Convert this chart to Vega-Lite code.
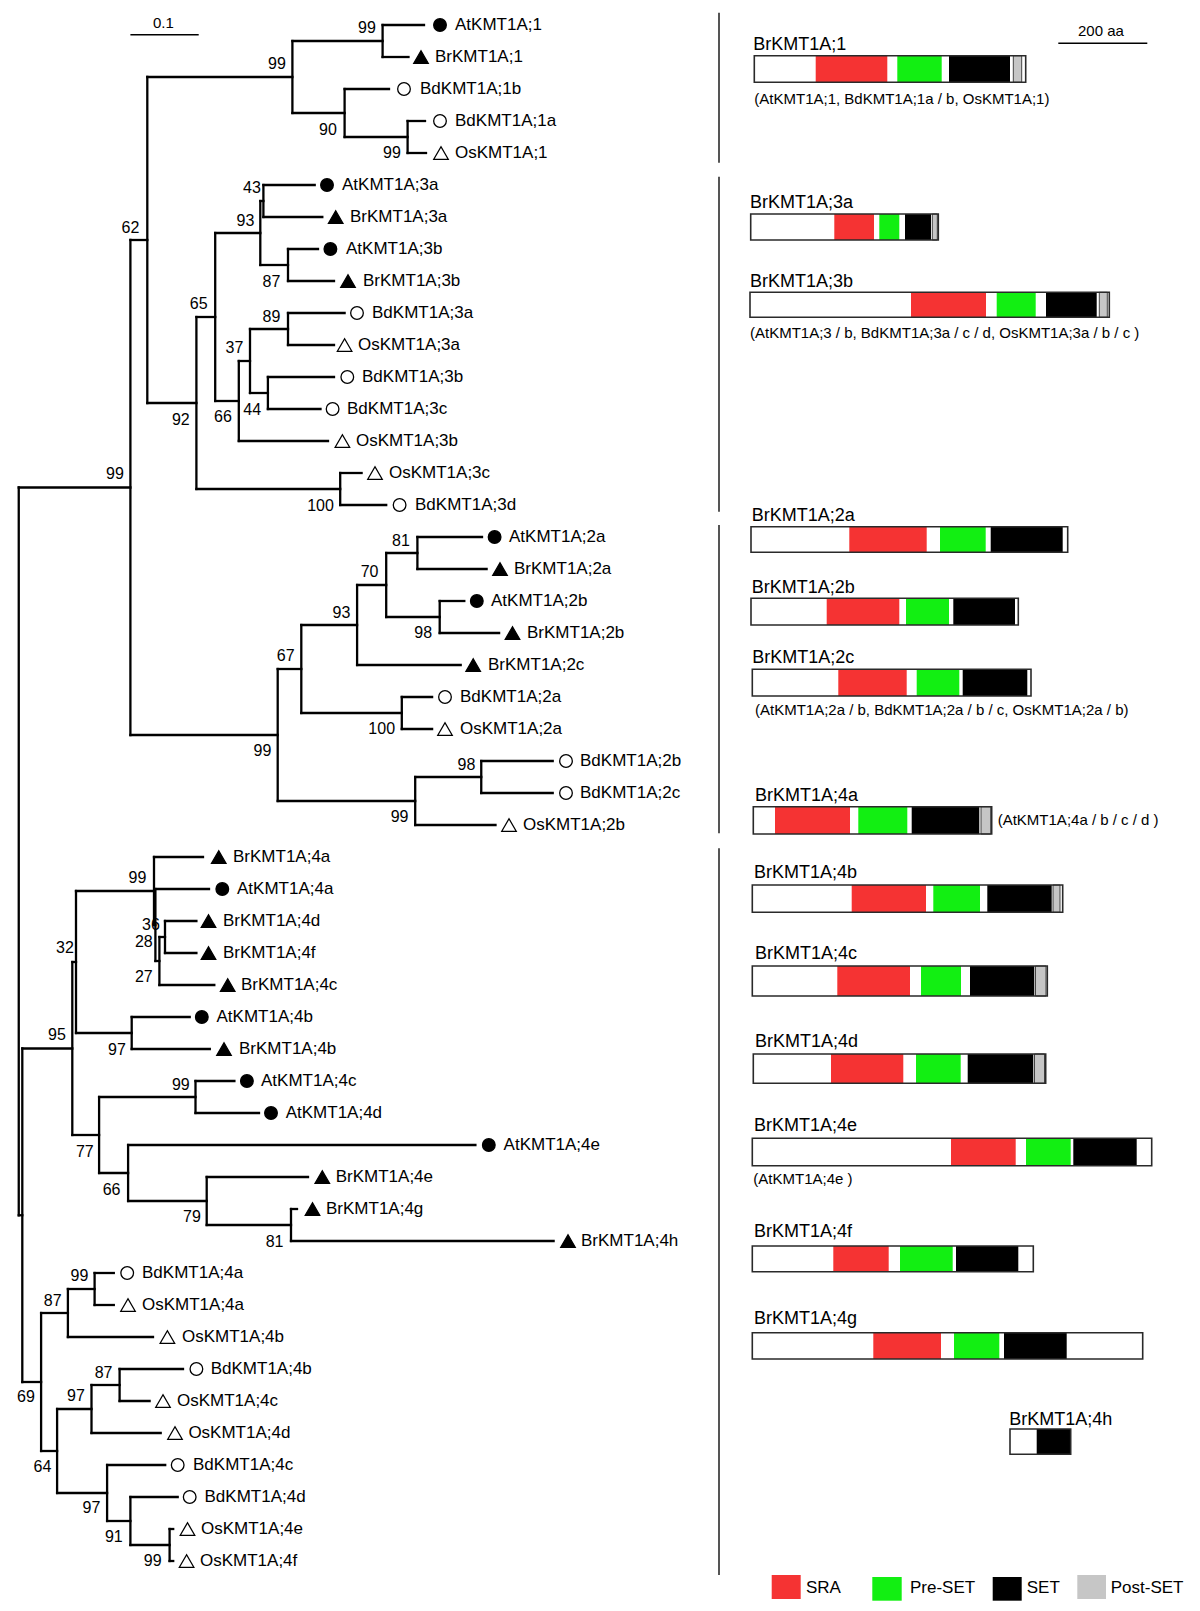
{
  "$schema": "https://vega.github.io/schema/vega-lite/v6.json",
  "autosize": {"type": "fit", "contains": "padding"},
  "width": 1200,
  "height": 1611,
  "padding": 0,
  "background": "white",
  "config": {"view": {"stroke": null}, "axis": {"disable": true}},
  "datasets": {
    "segs": [
      {"x":382.6,"x2":424,"y":25,"y2":25},{"x":382.6,"x2":408.5,"y":57,"y2":57},{"x":344.6,"x2":389,"y":89,"y2":89},
      {"x":407.6,"x2":425,"y":121,"y2":121},{"x":407.6,"x2":426,"y":153,"y2":153},{"x":263.4,"x2":314.7,"y":185,"y2":185},
      {"x":263.4,"x2":322.3,"y":217,"y2":217},{"x":288,"x2":318,"y":249,"y2":249},{"x":288,"x2":334,"y":281,"y2":281},
      {"x":288,"x2":344.6,"y":313,"y2":313},{"x":288,"x2":334,"y":345,"y2":345},{"x":267.9,"x2":334,"y":377,"y2":377},
      {"x":267.9,"x2":320.5,"y":409,"y2":409},{"x":238.8,"x2":328,"y":441,"y2":441},{"x":340.2,"x2":361.6,"y":473,"y2":473},
      {"x":340.2,"x2":386.2,"y":505,"y2":505},{"x":417.4,"x2":482,"y":537,"y2":537},{"x":417.4,"x2":486.6,"y":569,"y2":569},
      {"x":439.7,"x2":464.3,"y":601,"y2":601},{"x":439.7,"x2":499.1,"y":633,"y2":633},{"x":357.1,"x2":460.7,"y":665,"y2":665},
      {"x":401.8,"x2":432.1,"y":697,"y2":697},{"x":401.8,"x2":432.1,"y":729,"y2":729},{"x":481.25,"x2":552.7,"y":761,"y2":761},
      {"x":481.25,"x2":552.7,"y":793,"y2":793},{"x":415.2,"x2":495.5,"y":825,"y2":825},{"x":154,"x2":203,"y":857,"y2":857},
      {"x":155.4,"x2":209,"y":889,"y2":889},{"x":165,"x2":196.4,"y":921,"y2":921},{"x":165,"x2":196.4,"y":953,"y2":953},
      {"x":159.4,"x2":214.3,"y":985,"y2":985},{"x":131.7,"x2":189.7,"y":1017,"y2":1017},{"x":131.7,"x2":209.8,"y":1049,"y2":1049},
      {"x":195.5,"x2":234.4,"y":1081,"y2":1081},{"x":195.5,"x2":259,"y":1113,"y2":1113},{"x":128.1,"x2":475.4,"y":1145,"y2":1145},
      {"x":206.7,"x2":308,"y":1177,"y2":1177},{"x":291,"x2":297,"y":1209,"y2":1209},{"x":291,"x2":553.6,"y":1241,"y2":1241},
      {"x":94.6,"x2":113.8,"y":1273,"y2":1273},{"x":94.6,"x2":113.8,"y":1305,"y2":1305},{"x":67.9,"x2":153,"y":1337,"y2":1337},
      {"x":119.6,"x2":183,"y":1369,"y2":1369},{"x":119.6,"x2":149.6,"y":1401,"y2":1401},{"x":91.5,"x2":160.7,"y":1433,"y2":1433},
      {"x":107.1,"x2":165.2,"y":1465,"y2":1465},{"x":130.4,"x2":177.7,"y":1497,"y2":1497},{"x":169.6,"x2":173.2,"y":1529,"y2":1529},
      {"x":169.6,"x2":173.2,"y":1561,"y2":1561},
      {"x":382.6,"x2":382.6,"y":25,"y2":57},{"x":407.6,"x2":407.6,"y":121,"y2":153},{"x":344.6,"x2":344.6,"y":89,"y2":137},
      {"x":292.4,"x2":292.4,"y":41,"y2":113},{"x":263.4,"x2":263.4,"y":185,"y2":217},{"x":288,"x2":288,"y":249,"y2":281},
      {"x":260.3,"x2":260.3,"y":201,"y2":265},{"x":288,"x2":288,"y":313,"y2":345},{"x":267.9,"x2":267.9,"y":377,"y2":409},
      {"x":250,"x2":250,"y":329,"y2":393},{"x":238.8,"x2":238.8,"y":361,"y2":441},{"x":215.2,"x2":215.2,"y":233,"y2":401},
      {"x":340.2,"x2":340.2,"y":473,"y2":505},{"x":196.4,"x2":196.4,"y":317,"y2":489},{"x":147.3,"x2":147.3,"y":77,"y2":403},
      {"x":417.4,"x2":417.4,"y":537,"y2":569},{"x":439.7,"x2":439.7,"y":601,"y2":633},{"x":386.2,"x2":386.2,"y":553,"y2":617},
      {"x":357.1,"x2":357.1,"y":585,"y2":665},{"x":401.8,"x2":401.8,"y":697,"y2":729},{"x":301.3,"x2":301.3,"y":625,"y2":713},
      {"x":481.25,"x2":481.25,"y":761,"y2":793},{"x":415.2,"x2":415.2,"y":777,"y2":825},{"x":277.7,"x2":277.7,"y":669,"y2":801},
      {"x":130.4,"x2":130.4,"y":240,"y2":735},{"x":165,"x2":165,"y":921,"y2":953},{"x":159.4,"x2":159.4,"y":937,"y2":985},
      {"x":155.4,"x2":155.4,"y":889,"y2":961},{"x":154,"x2":154,"y":857,"y2":925},{"x":131.7,"x2":131.7,"y":1017,"y2":1049},
      {"x":76,"x2":76,"y":891,"y2":1033},{"x":195.5,"x2":195.5,"y":1081,"y2":1113},{"x":291,"x2":291,"y":1209,"y2":1241},
      {"x":206.7,"x2":206.7,"y":1177,"y2":1225},{"x":128.1,"x2":128.1,"y":1145,"y2":1201},{"x":99.1,"x2":99.1,"y":1097,"y2":1173},
      {"x":72.3,"x2":72.3,"y":962,"y2":1135},{"x":94.6,"x2":94.6,"y":1273,"y2":1305},{"x":67.9,"x2":67.9,"y":1289,"y2":1337},
      {"x":119.6,"x2":119.6,"y":1369,"y2":1401},{"x":91.5,"x2":91.5,"y":1385,"y2":1433},{"x":169.6,"x2":169.6,"y":1529,"y2":1561},
      {"x":130.4,"x2":130.4,"y":1497,"y2":1545},{"x":107.1,"x2":107.1,"y":1465,"y2":1521},{"x":57.1,"x2":57.1,"y":1409,"y2":1493},
      {"x":41.1,"x2":41.1,"y":1313,"y2":1451},{"x":22.3,"x2":22.3,"y":1048.5,"y2":1382},{"x":18.75,"x2":18.75,"y":487.5,"y2":1215.25},
      {"x":292.4,"x2":382.6,"y":41,"y2":41},{"x":344.6,"x2":407.6,"y":137,"y2":137},{"x":292.4,"x2":344.6,"y":113,"y2":113},
      {"x":147.3,"x2":292.4,"y":77,"y2":77},{"x":260.3,"x2":263.4,"y":201,"y2":201},{"x":260.3,"x2":288,"y":265,"y2":265},
      {"x":215.2,"x2":260.3,"y":233,"y2":233},{"x":250,"x2":288,"y":329,"y2":329},{"x":250,"x2":267.9,"y":393,"y2":393},
      {"x":238.8,"x2":250,"y":361,"y2":361},{"x":215.2,"x2":238.8,"y":401,"y2":401},{"x":196.4,"x2":215.2,"y":317,"y2":317},
      {"x":196.4,"x2":340.2,"y":489,"y2":489},{"x":147.3,"x2":196.4,"y":403,"y2":403},{"x":130.4,"x2":147.3,"y":240,"y2":240},
      {"x":386.2,"x2":417.4,"y":553,"y2":553},{"x":386.2,"x2":439.7,"y":617,"y2":617},{"x":357.1,"x2":386.2,"y":585,"y2":585},
      {"x":301.3,"x2":357.1,"y":625,"y2":625},{"x":301.3,"x2":401.8,"y":713,"y2":713},{"x":277.7,"x2":301.3,"y":669,"y2":669},
      {"x":415.2,"x2":481.25,"y":777,"y2":777},{"x":277.7,"x2":415.2,"y":801,"y2":801},{"x":130.4,"x2":277.7,"y":735,"y2":735},
      {"x":18.75,"x2":130.4,"y":487.5,"y2":487.5},{"x":159.4,"x2":165,"y":937,"y2":937},{"x":155.4,"x2":159.4,"y":961,"y2":961},
      {"x":154,"x2":155.4,"y":925,"y2":925},{"x":76,"x2":154,"y":891,"y2":891},{"x":76,"x2":131.7,"y":1033,"y2":1033},
      {"x":72.3,"x2":76,"y":962,"y2":962},{"x":99.1,"x2":195.5,"y":1097,"y2":1097},{"x":206.7,"x2":291,"y":1225,"y2":1225},
      {"x":128.1,"x2":206.7,"y":1201,"y2":1201},{"x":99.1,"x2":128.1,"y":1173,"y2":1173},{"x":72.3,"x2":99.1,"y":1135,"y2":1135},
      {"x":22.3,"x2":72.3,"y":1048.5,"y2":1048.5},{"x":67.9,"x2":94.6,"y":1289,"y2":1289},{"x":41.1,"x2":67.9,"y":1313,"y2":1313},
      {"x":91.5,"x2":119.6,"y":1385,"y2":1385},{"x":57.1,"x2":91.5,"y":1409,"y2":1409},{"x":130.4,"x2":169.6,"y":1545,"y2":1545},
      {"x":107.1,"x2":130.4,"y":1521,"y2":1521},{"x":57.1,"x2":107.1,"y":1493,"y2":1493},{"x":41.1,"x2":57.1,"y":1451,"y2":1451},
      {"x":22.3,"x2":41.1,"y":1382,"y2":1382},{"x":18.75,"x2":22.3,"y":1215.25,"y2":1215.25}
    ],
    "leaves": [
      {"name":"AtKMT1A;1","sp":"At","mx":440,"tx":455,"y":25},
      {"name":"BrKMT1A;1","sp":"Br","mx":421,"tx":435,"y":57},
      {"name":"BdKMT1A;1b","sp":"Bd","mx":404,"tx":420,"y":89},
      {"name":"BdKMT1A;1a","sp":"Bd","mx":440,"tx":455,"y":121},
      {"name":"OsKMT1A;1","sp":"Os","mx":441,"tx":455,"y":153},
      {"name":"AtKMT1A;3a","sp":"At","mx":327,"tx":342,"y":185},
      {"name":"BrKMT1A;3a","sp":"Br","mx":335.7,"tx":350,"y":217},
      {"name":"AtKMT1A;3b","sp":"At","mx":330.4,"tx":346,"y":249},
      {"name":"BrKMT1A;3b","sp":"Br","mx":348,"tx":363,"y":281},
      {"name":"BdKMT1A;3a","sp":"Bd","mx":357,"tx":372,"y":313},
      {"name":"OsKMT1A;3a","sp":"Os","mx":344.6,"tx":358,"y":345},
      {"name":"BdKMT1A;3b","sp":"Bd","mx":347.3,"tx":362,"y":377},
      {"name":"BdKMT1A;3c","sp":"Bd","mx":332.6,"tx":347,"y":409},
      {"name":"OsKMT1A;3b","sp":"Os","mx":342.4,"tx":356,"y":441},
      {"name":"OsKMT1A;3c","sp":"Os","mx":375,"tx":389,"y":473},
      {"name":"BdKMT1A;3d","sp":"Bd","mx":399.6,"tx":415,"y":505},
      {"name":"AtKMT1A;2a","sp":"At","mx":494.6,"tx":509,"y":537},
      {"name":"BrKMT1A;2a","sp":"Br","mx":500,"tx":514,"y":569},
      {"name":"AtKMT1A;2b","sp":"At","mx":476.8,"tx":491,"y":601},
      {"name":"BrKMT1A;2b","sp":"Br","mx":512.5,"tx":527,"y":633},
      {"name":"BrKMT1A;2c","sp":"Br","mx":473.2,"tx":488,"y":665},
      {"name":"BdKMT1A;2a","sp":"Bd","mx":445,"tx":460,"y":697},
      {"name":"OsKMT1A;2a","sp":"Os","mx":445,"tx":460,"y":729},
      {"name":"BdKMT1A;2b","sp":"Bd","mx":566,"tx":580,"y":761},
      {"name":"BdKMT1A;2c","sp":"Bd","mx":566,"tx":580,"y":793},
      {"name":"OsKMT1A;2b","sp":"Os","mx":509,"tx":523,"y":825},
      {"name":"BrKMT1A;4a","sp":"Br","mx":218.75,"tx":233,"y":857},
      {"name":"AtKMT1A;4a","sp":"At","mx":222.3,"tx":237,"y":889},
      {"name":"BrKMT1A;4d","sp":"Br","mx":208.5,"tx":223,"y":921},
      {"name":"BrKMT1A;4f","sp":"Br","mx":208.5,"tx":223,"y":953},
      {"name":"BrKMT1A;4c","sp":"Br","mx":227.7,"tx":241,"y":985},
      {"name":"AtKMT1A;4b","sp":"At","mx":201.8,"tx":216.5,"y":1017},
      {"name":"BrKMT1A;4b","sp":"Br","mx":224,"tx":239,"y":1049},
      {"name":"AtKMT1A;4c","sp":"At","mx":246.9,"tx":261,"y":1081},
      {"name":"AtKMT1A;4d","sp":"At","mx":271,"tx":285.7,"y":1113},
      {"name":"AtKMT1A;4e","sp":"At","mx":488.8,"tx":503.6,"y":1145},
      {"name":"BrKMT1A;4e","sp":"Br","mx":322.3,"tx":335.7,"y":1177},
      {"name":"BrKMT1A;4g","sp":"Br","mx":312.5,"tx":326,"y":1209},
      {"name":"BrKMT1A;4h","sp":"Br","mx":568,"tx":581,"y":1241},
      {"name":"BdKMT1A;4a","sp":"Bd","mx":127.2,"tx":142,"y":1273},
      {"name":"OsKMT1A;4a","sp":"Os","mx":128,"tx":142,"y":1305},
      {"name":"OsKMT1A;4b","sp":"Os","mx":167.4,"tx":182,"y":1337},
      {"name":"BdKMT1A;4b","sp":"Bd","mx":196.4,"tx":210.7,"y":1369},
      {"name":"OsKMT1A;4c","sp":"Os","mx":163,"tx":177,"y":1401},
      {"name":"OsKMT1A;4d","sp":"Os","mx":175,"tx":188.4,"y":1433},
      {"name":"BdKMT1A;4c","sp":"Bd","mx":177.7,"tx":193,"y":1465},
      {"name":"BdKMT1A;4d","sp":"Bd","mx":189.7,"tx":204.5,"y":1497},
      {"name":"OsKMT1A;4e","sp":"Os","mx":187.5,"tx":201,"y":1529},
      {"name":"OsKMT1A;4f","sp":"Os","mx":186.6,"tx":200,"y":1561}
    ],
    "boots": [
      {"v":"99","x":367,"y":28},{"v":"99","x":277,"y":64},{"v":"90","x":328,"y":130},{"v":"99","x":392,"y":153},
      {"v":"62","x":130.5,"y":228},{"v":"99","x":115,"y":474},{"v":"43","x":252,"y":188},{"v":"93","x":245.5,"y":220.7},
      {"v":"87","x":271.4,"y":281.7},{"v":"65","x":198.7,"y":304},{"v":"89","x":271.4,"y":316.7},{"v":"37","x":234.4,"y":348.3},
      {"v":"44","x":252.2,"y":410},{"v":"66","x":223,"y":416.7},{"v":"92","x":180.8,"y":420},{"v":"100","x":320.5,"y":506},
      {"v":"81","x":400.9,"y":540.7},{"v":"70","x":369.6,"y":571.7},{"v":"93","x":341.5,"y":612.7},{"v":"98","x":423.2,"y":633.3},
      {"v":"67","x":285.7,"y":656},{"v":"100","x":381.7,"y":729.3},{"v":"99","x":262.5,"y":750.7},{"v":"98","x":466.5,"y":765},
      {"v":"99","x":399.6,"y":816.7},{"v":"99","x":137.5,"y":878},{"v":"36","x":151,"y":925},{"v":"28","x":143.8,"y":941.7},
      {"v":"27","x":143.8,"y":976.7},{"v":"32","x":65,"y":948},{"v":"95","x":57,"y":1035},{"v":"97","x":117,"y":1050},
      {"v":"99","x":180.8,"y":1085},{"v":"77","x":84.8,"y":1151.7},{"v":"66","x":111.6,"y":1190},{"v":"79","x":192,"y":1217},
      {"v":"81","x":274.6,"y":1241.7},{"v":"99","x":79.5,"y":1276},{"v":"87","x":52.7,"y":1300.7},{"v":"87","x":103.6,"y":1372.7},
      {"v":"97","x":75.9,"y":1396},{"v":"69","x":25.9,"y":1397},{"v":"64","x":42.4,"y":1467},{"v":"97","x":91.5,"y":1508.3},
      {"v":"91","x":113.8,"y":1536.7},{"v":"99","x":152.7,"y":1560.7}
    ],
    "doms": [
      {"p":"BrKMT1A;1","d":"SRA","a":815.7,"b":887.3,"t":55.7,"u":82.3},
      {"p":"BrKMT1A;1","d":"Pre-SET","a":897.3,"b":941.7,"t":55.7,"u":82.3},
      {"p":"BrKMT1A;1","d":"SET","a":949,"b":1010,"t":55.7,"u":82.3},
      {"p":"BrKMT1A;1","d":"Post-SET","a":1013.3,"b":1021.7,"t":55.7,"u":82.3},
      {"p":"BrKMT1A;3a","d":"SRA","a":834.3,"b":874,"t":214,"u":240},
      {"p":"BrKMT1A;3a","d":"Pre-SET","a":879.3,"b":899.3,"t":214,"u":240},
      {"p":"BrKMT1A;3a","d":"SET","a":905,"b":931,"t":214,"u":240},
      {"p":"BrKMT1A;3a","d":"Post-SET","a":932.3,"b":937.3,"t":214,"u":240},
      {"p":"BrKMT1A;3b","d":"SRA","a":911,"b":986,"t":292.3,"u":317.3},
      {"p":"BrKMT1A;3b","d":"Pre-SET","a":996.7,"b":1035.7,"t":292.3,"u":317.3},
      {"p":"BrKMT1A;3b","d":"SET","a":1046,"b":1096.7,"t":292.3,"u":317.3},
      {"p":"BrKMT1A;3b","d":"Post-SET","a":1099.3,"b":1107.3,"t":292.3,"u":317.3},
      {"p":"BrKMT1A;2a","d":"SRA","a":849.3,"b":926.7,"t":526.7,"u":552.3},
      {"p":"BrKMT1A;2a","d":"Pre-SET","a":940,"b":985.7,"t":526.7,"u":552.3},
      {"p":"BrKMT1A;2a","d":"SET","a":990.7,"b":1062.7,"t":526.7,"u":552.3},
      {"p":"BrKMT1A;2b","d":"SRA","a":826.7,"b":899.3,"t":598.3,"u":625},
      {"p":"BrKMT1A;2b","d":"Pre-SET","a":906,"b":949,"t":598.3,"u":625},
      {"p":"BrKMT1A;2b","d":"SET","a":953.3,"b":1015,"t":598.3,"u":625},
      {"p":"BrKMT1A;2c","d":"SRA","a":838.3,"b":906.7,"t":669.3,"u":696},
      {"p":"BrKMT1A;2c","d":"Pre-SET","a":916.7,"b":959.3,"t":669.3,"u":696},
      {"p":"BrKMT1A;2c","d":"SET","a":962.7,"b":1027.3,"t":669.3,"u":696},
      {"p":"BrKMT1A;4a","d":"SRA","a":775,"b":850,"t":806.7,"u":834},
      {"p":"BrKMT1A;4a","d":"Pre-SET","a":858.3,"b":907.3,"t":806.7,"u":834},
      {"p":"BrKMT1A;4a","d":"SET","a":911.7,"b":979.3,"t":806.7,"u":834},
      {"p":"BrKMT1A;4a","d":"Post-SET","a":981,"b":990.7,"t":806.7,"u":834},
      {"p":"BrKMT1A;4b","d":"SRA","a":851.7,"b":926,"t":885,"u":912.3},
      {"p":"BrKMT1A;4b","d":"Pre-SET","a":933.3,"b":980,"t":885,"u":912.3},
      {"p":"BrKMT1A;4b","d":"SET","a":987.3,"b":1051.7,"t":885,"u":912.3},
      {"p":"BrKMT1A;4b","d":"Post-SET","a":1053,"b":1060,"t":885,"u":912.3},
      {"p":"BrKMT1A;4c","d":"SRA","a":837.3,"b":910,"t":966,"u":996},
      {"p":"BrKMT1A;4c","d":"Pre-SET","a":921,"b":961,"t":966,"u":996},
      {"p":"BrKMT1A;4c","d":"SET","a":970,"b":1034.3,"t":966,"u":996},
      {"p":"BrKMT1A;4c","d":"Post-SET","a":1035.5,"b":1046,"t":966,"u":996},
      {"p":"BrKMT1A;4d","d":"SRA","a":831,"b":903.3,"t":1054,"u":1083.3},
      {"p":"BrKMT1A;4d","d":"Pre-SET","a":916,"b":960.7,"t":1054,"u":1083.3},
      {"p":"BrKMT1A;4d","d":"SET","a":967.7,"b":1033.3,"t":1054,"u":1083.3},
      {"p":"BrKMT1A;4d","d":"Post-SET","a":1034.5,"b":1044.5,"t":1054,"u":1083.3},
      {"p":"BrKMT1A;4e","d":"SRA","a":951,"b":1015.7,"t":1138.3,"u":1165.7},
      {"p":"BrKMT1A;4e","d":"Pre-SET","a":1026,"b":1070.7,"t":1138.3,"u":1165.7},
      {"p":"BrKMT1A;4e","d":"SET","a":1073.3,"b":1136.7,"t":1138.3,"u":1165.7},
      {"p":"BrKMT1A;4f","d":"SRA","a":833.3,"b":888.7,"t":1246,"u":1271.7},
      {"p":"BrKMT1A;4f","d":"Pre-SET","a":900,"b":952.7,"t":1246,"u":1271.7},
      {"p":"BrKMT1A;4f","d":"SET","a":956,"b":1018.3,"t":1246,"u":1271.7},
      {"p":"BrKMT1A;4g","d":"SRA","a":873.3,"b":941,"t":1332.7,"u":1359},
      {"p":"BrKMT1A;4g","d":"Pre-SET","a":954,"b":999.3,"t":1332.7,"u":1359},
      {"p":"BrKMT1A;4g","d":"SET","a":1004,"b":1066.7,"t":1332.7,"u":1359},
      {"p":"BrKMT1A;4h","d":"SET","a":1036.7,"b":1070.7,"t":1429,"u":1454.3}
    ],
    "bars": [
      {"p":"BrKMT1A;1","a":754.3,"b":1025.7,"t":55.7,"u":82.3,"lx":753.3,"ly":50},
      {"p":"BrKMT1A;3a","a":750.7,"b":938.3,"t":214,"u":240,"lx":750,"ly":208},
      {"p":"BrKMT1A;3b","a":750,"b":1109.3,"t":292.3,"u":317.3,"lx":750,"ly":286.7},
      {"p":"BrKMT1A;2a","a":751,"b":1067.7,"t":526.7,"u":552.3,"lx":751.7,"ly":520.7},
      {"p":"BrKMT1A;2b","a":751,"b":1018.3,"t":598.3,"u":625,"lx":751.7,"ly":592.7},
      {"p":"BrKMT1A;2c","a":752.3,"b":1031,"t":669.3,"u":696,"lx":752.3,"ly":663.3},
      {"p":"BrKMT1A;4a","a":753.3,"b":991.7,"t":806.7,"u":834,"lx":755,"ly":800.7},
      {"p":"BrKMT1A;4b","a":752.3,"b":1062.7,"t":885,"u":912.3,"lx":754,"ly":878.3},
      {"p":"BrKMT1A;4c","a":752.3,"b":1047.3,"t":966,"u":996,"lx":755,"ly":959.3},
      {"p":"BrKMT1A;4d","a":753.3,"b":1045.7,"t":1054,"u":1083.3,"lx":755,"ly":1047.3},
      {"p":"BrKMT1A;4e","a":752.3,"b":1151.7,"t":1138.3,"u":1165.7,"lx":754,"ly":1130.7},
      {"p":"BrKMT1A;4f","a":752.3,"b":1033.3,"t":1246,"u":1271.7,"lx":754,"ly":1237.3},
      {"p":"BrKMT1A;4g","a":752.3,"b":1142.7,"t":1332.7,"u":1359,"lx":754,"ly":1324},
      {"p":"BrKMT1A;4h","a":1010,"b":1070.7,"t":1429,"u":1454.3,"lx":1009.3,"ly":1425}
    ],
    "captions": [
      {"c":"(AtKMT1A;1, BdKMT1A;1a / b, OsKMT1A;1)","x":754.3,"y":99},
      {"c":"(AtKMT1A;3 / b, BdKMT1A;3a / c / d, OsKMT1A;3a / b / c )","x":750,"y":333.3},
      {"c":"(AtKMT1A;2a / b, BdKMT1A;2a / b / c, OsKMT1A;2a / b)","x":755,"y":710},
      {"c":"(AtKMT1A;4a / b / c / d )","x":997.7,"y":820},
      {"c":"(AtKMT1A;4e )","x":753.3,"y":1179.3},
      {"c":"0.1","x":153,"y":23},
      {"c":"200 aa","x":1078,"y":30.7}
    ],
    "seps": [
      {"x":719,"y":12.7,"y2":162.7},{"x":719,"y":176.7,"y2":511.7},{"x":719,"y":525,"y2":833.3},{"x":719,"y":848.3,"y2":1575}
    ],
    "scalebars": [
      {"x":130.4,"x2":198.7,"y":34.7},{"x":1058.3,"x2":1147.3,"y":43.3}
    ],
    "legend": [
      {"d":"SRA","a":771.7,"b":800.7,"t":1575,"u":1599,"lx":806,"ly":1588},
      {"d":"Pre-SET","a":872.3,"b":901.7,"t":1577,"u":1600.7,"lx":910,"ly":1588},
      {"d":"SET","a":992.7,"b":1021.7,"t":1577,"u":1600.7,"lx":1026.7,"ly":1588},
      {"d":"Post-SET","a":1077.3,"b":1106,"t":1575,"u":1599,"lx":1110.7,"ly":1588}
    ]
  },
  "layer": [
    {
      "data": {"name": "seps"},
      "mark": {"type": "rule", "stroke": "#555555", "strokeWidth": 2},
      "encoding": {
        "x": {"field": "x", "type": "quantitative", "scale": {"domain": [0, 1200], "nice": false, "zero": false}, "axis": null},
        "y": {"field": "y", "type": "quantitative", "scale": {"domain": [0, 1611], "nice": false, "zero": false, "reverse": true}, "axis": null},
        "y2": {"field": "y2"}
      }
    },
    {
      "data": {"name": "scalebars"},
      "mark": {"type": "rule", "stroke": "black", "strokeWidth": 1.6},
      "encoding": {
        "x": {"field": "x", "type": "quantitative", "scale": {"domain": [0, 1200], "nice": false, "zero": false}, "axis": null},
        "x2": {"field": "x2"},
        "y": {"field": "y", "type": "quantitative", "scale": {"domain": [0, 1611], "nice": false, "zero": false, "reverse": true}, "axis": null}
      }
    },
    {
      "data": {"name": "segs"},
      "mark": {"type": "rule", "stroke": "black", "strokeWidth": 2.3, "strokeCap": "square"},
      "encoding": {
        "x": {"field": "x", "type": "quantitative", "scale": {"domain": [0, 1200], "nice": false, "zero": false}, "axis": null},
        "x2": {"field": "x2"},
        "y": {"field": "y", "type": "quantitative", "scale": {"domain": [0, 1611], "nice": false, "zero": false, "reverse": true}, "axis": null},
        "y2": {"field": "y2"}
      }
    },
    {
      "data": {"name": "leaves"},
      "transform": [{"filter": "datum.sp === 'At' || datum.sp === 'Bd'"}],
      "mark": {"type": "point", "shape": "circle", "size": 160, "stroke": "black", "strokeWidth": 1.3, "filled": true, "opacity": 1},
      "encoding": {
        "x": {"field": "mx", "type": "quantitative", "scale": {"domain": [0, 1200], "nice": false, "zero": false}, "axis": null},
        "y": {"field": "y", "type": "quantitative", "scale": {"domain": [0, 1611], "nice": false, "zero": false, "reverse": true}, "axis": null},
        "fill": {"field": "sp", "type": "nominal", "scale": {"domain": ["At", "Br", "Bd", "Os"], "range": ["black", "black", "white", "white"]}, "legend": null}
      }
    },
    {
      "data": {"name": "leaves"},
      "transform": [{"filter": "datum.sp === 'Br' || datum.sp === 'Os'"}],
      "mark": {"type": "point", "shape": "triangle-up", "size": 210, "stroke": "black", "strokeWidth": 1.3, "filled": true, "opacity": 1},
      "encoding": {
        "x": {"field": "mx", "type": "quantitative", "scale": {"domain": [0, 1200], "nice": false, "zero": false}, "axis": null},
        "y": {"field": "y", "type": "quantitative", "scale": {"domain": [0, 1611], "nice": false, "zero": false, "reverse": true}, "axis": null},
        "fill": {"field": "sp", "type": "nominal", "scale": {"domain": ["At", "Br", "Bd", "Os"], "range": ["black", "black", "white", "white"]}, "legend": null}
      }
    },
    {
      "data": {"name": "leaves"},
      "mark": {"type": "text", "align": "left", "baseline": "middle", "font": "Liberation Sans", "fontSize": 17, "fill": "black"},
      "encoding": {
        "x": {"field": "tx", "type": "quantitative", "scale": {"domain": [0, 1200], "nice": false, "zero": false}, "axis": null},
        "y": {"field": "y", "type": "quantitative", "scale": {"domain": [0, 1611], "nice": false, "zero": false, "reverse": true}, "axis": null},
        "text": {"field": "name", "type": "nominal"}
      }
    },
    {
      "data": {"name": "boots"},
      "mark": {"type": "text", "align": "center", "baseline": "middle", "font": "Liberation Sans Narrow, Liberation Sans", "fontSize": 16, "fill": "black"},
      "encoding": {
        "x": {"field": "x", "type": "quantitative", "scale": {"domain": [0, 1200], "nice": false, "zero": false}, "axis": null},
        "y": {"field": "y", "type": "quantitative", "scale": {"domain": [0, 1611], "nice": false, "zero": false, "reverse": true}, "axis": null},
        "text": {"field": "v", "type": "nominal"}
      }
    },
    {
      "data": {"name": "doms"},
      "mark": {"type": "rect"},
      "encoding": {
        "x": {"field": "a", "type": "quantitative", "scale": {"domain": [0, 1200], "nice": false, "zero": false}, "axis": null},
        "x2": {"field": "b"},
        "y": {"field": "t", "type": "quantitative", "scale": {"domain": [0, 1611], "nice": false, "zero": false, "reverse": true}, "axis": null},
        "y2": {"field": "u"},
        "color": {"field": "d", "type": "nominal", "scale": {"domain": ["SRA", "Pre-SET", "SET", "Post-SET"], "range": ["#f53333", "#12ef12", "#000000", "#c6c6c6"]}, "legend": null}
      }
    },
    {
      "data": {"name": "doms"},
      "transform": [{"filter": "datum.d === 'Post-SET'"}],
      "mark": {"type": "rect", "filled": false, "stroke": "#333333", "strokeWidth": 0.9},
      "encoding": {
        "x": {"field": "a", "type": "quantitative", "scale": {"domain": [0, 1200], "nice": false, "zero": false}, "axis": null},
        "x2": {"field": "b"},
        "y": {"field": "t", "type": "quantitative", "scale": {"domain": [0, 1611], "nice": false, "zero": false, "reverse": true}, "axis": null},
        "y2": {"field": "u"}
      }
    },
    {
      "data": {"name": "bars"},
      "mark": {"type": "rect", "filled": false, "stroke": "#2a2a2a", "strokeWidth": 1.6},
      "encoding": {
        "x": {"field": "a", "type": "quantitative", "scale": {"domain": [0, 1200], "nice": false, "zero": false}, "axis": null},
        "x2": {"field": "b"},
        "y": {"field": "t", "type": "quantitative", "scale": {"domain": [0, 1611], "nice": false, "zero": false, "reverse": true}, "axis": null},
        "y2": {"field": "u"}
      }
    },
    {
      "data": {"name": "bars"},
      "mark": {"type": "text", "align": "left", "baseline": "alphabetic", "font": "Liberation Sans", "fontSize": 18, "fill": "black"},
      "encoding": {
        "x": {"field": "lx", "type": "quantitative", "scale": {"domain": [0, 1200], "nice": false, "zero": false}, "axis": null},
        "y": {"field": "ly", "type": "quantitative", "scale": {"domain": [0, 1611], "nice": false, "zero": false, "reverse": true}, "axis": null},
        "text": {"field": "p", "type": "nominal"}
      }
    },
    {
      "data": {"name": "captions"},
      "mark": {"type": "text", "align": "left", "baseline": "middle", "font": "Liberation Sans", "fontSize": 15, "fill": "black"},
      "encoding": {
        "x": {"field": "x", "type": "quantitative", "scale": {"domain": [0, 1200], "nice": false, "zero": false}, "axis": null},
        "y": {"field": "y", "type": "quantitative", "scale": {"domain": [0, 1611], "nice": false, "zero": false, "reverse": true}, "axis": null},
        "text": {"field": "c", "type": "nominal"}
      }
    },
    {
      "data": {"name": "legend"},
      "mark": {"type": "rect"},
      "encoding": {
        "x": {"field": "a", "type": "quantitative", "scale": {"domain": [0, 1200], "nice": false, "zero": false}, "axis": null},
        "x2": {"field": "b"},
        "y": {"field": "t", "type": "quantitative", "scale": {"domain": [0, 1611], "nice": false, "zero": false, "reverse": true}, "axis": null},
        "y2": {"field": "u"},
        "color": {"field": "d", "type": "nominal", "scale": {"domain": ["SRA", "Pre-SET", "SET", "Post-SET"], "range": ["#f53333", "#12ef12", "#000000", "#c6c6c6"]}, "legend": null}
      }
    },
    {
      "data": {"name": "legend"},
      "mark": {"type": "text", "align": "left", "baseline": "middle", "font": "Liberation Sans Narrow, Liberation Sans", "fontSize": 17, "fill": "black"},
      "encoding": {
        "x": {"field": "lx", "type": "quantitative", "scale": {"domain": [0, 1200], "nice": false, "zero": false}, "axis": null},
        "y": {"field": "ly", "type": "quantitative", "scale": {"domain": [0, 1611], "nice": false, "zero": false, "reverse": true}, "axis": null},
        "text": {"field": "d", "type": "nominal"}
      }
    }
  ]
}
